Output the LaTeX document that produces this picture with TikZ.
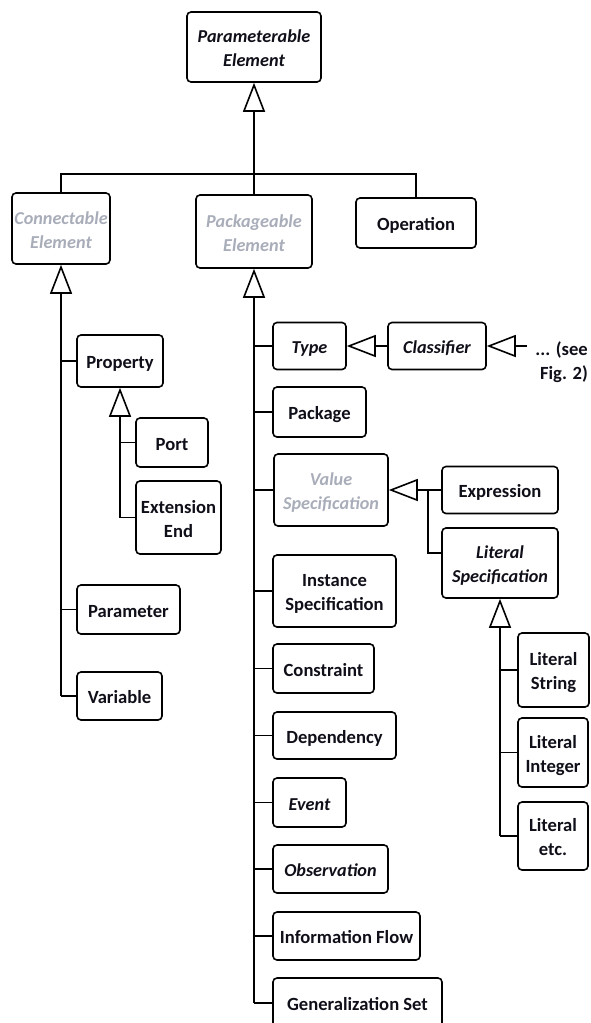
\documentclass[tikz,border=0pt]{standalone}
\usepackage{fontspec}
\setmainfont{Carlito}
\usetikzlibrary{arrows.meta}
\definecolor{abstracttext}{RGB}{168,173,185}
\definecolor{inktext}{RGB}{15,15,25}
% box label: centred lines, drawn a little below the geometric centre
\newcommand{\umltext}[1]{\raisebox{-3pt}[\height][\depth]{\begin{tabular}{@{}c@{}}#1\end{tabular}}}
\begin{document}
\begin{tikzpicture}[x=1pt,y=-1pt,
  umlbox/.style={draw, line width=1.6pt, rounded corners=4pt, inner sep=0pt,
    text=inktext, font=\fontsize{18.6}{24}\selectfont\bfseries},
  italicbox/.style={umlbox, font=\fontsize{18.2}{24}\selectfont\bfseries\itshape},
  greybox/.style={italicbox, text=abstracttext},
  link/.style={line width=1.6pt},
  gen/.style={link, -{Triangle[open, length=29pt, width=22pt]}},
]
\useasboundingbox (0,0) rectangle (590,1023);
\clip (0,0) rectangle (590,1023);

% top level
\node[italicbox, minimum width=134pt, minimum height=70pt] (param) at (254,47) {\umltext{Parameterable\\Element}};
\node[greybox, minimum width=98pt, minimum height=71pt] (conn) at (61,228.5) {\umltext{Connectable\\Element}};
\node[greybox, minimum width=116pt, minimum height=73pt] (pkg) at (254,231.5) {\umltext{Packageable\\Element}};
\node[umlbox, minimum width=120pt, minimum height=50pt] (oper) at (416,223) {\umltext{Operation}};

% connectable elements
\node[umlbox, minimum width=86pt, minimum height=52pt] (prop) at (120,361) {\umltext{Property}};
\node[umlbox, minimum width=72pt, minimum height=49pt] (port) at (172,442.5) {\umltext{Port}};
\node[umlbox, minimum width=85pt, minimum height=73pt] (ext) at (178.5,517.5) {\umltext{Extension\\End}};
\node[umlbox, minimum width=103pt, minimum height=49pt] (parameter) at (128.5,609.5) {\umltext{Parameter}};
\node[umlbox, minimum width=85pt, minimum height=48pt] (var) at (119.5,696) {\umltext{Variable}};

% packageable elements
\node[italicbox, minimum width=73pt, minimum height=47pt] (type) at (309.5,346) {\umltext{Type}};
\node[italicbox, minimum width=98pt, minimum height=47pt] (classifier) at (437,346) {\umltext{Classifier}};
\node[inner sep=0pt, align=right, anchor=east, text=inktext,
  font=\fontsize{18.6}{24}\selectfont\bfseries] (see) at (588,362) {... (see\\Fig. 2)};
\node[umlbox, minimum width=93pt, minimum height=50pt] (package) at (319.5,412) {\umltext{Package}};
\node[greybox, minimum width=114pt, minimum height=72pt] (vs) at (331,490) {\umltext{Value\\Specification}};
\node[umlbox, minimum width=116pt, minimum height=47pt] (expr) at (500,490) {\umltext{Expression}};
\node[italicbox, minimum width=116pt, minimum height=70pt] (lit) at (500,563) {\umltext{Literal\\Specification}};
\node[umlbox, minimum width=123pt, minimum height=72pt] (inst) at (334.5,591) {\umltext{Instance\\Specification}};
\node[umlbox, minimum width=101pt, minimum height=49pt] (constr) at (323.5,668.5) {\umltext{Constraint}};
\node[umlbox, minimum width=123pt, minimum height=47pt] (dep) at (334.5,735.5) {\umltext{Dependency}};
\node[italicbox, minimum width=73pt, minimum height=49pt] (event) at (309.5,802.5) {\umltext{Event}};
\node[italicbox, minimum width=115pt, minimum height=48pt] (obs) at (330.5,869) {\umltext{Observation}};
\node[umlbox, minimum width=147pt, minimum height=48pt] (info) at (346.5,936) {\umltext{Information Flow}};
\node[umlbox, minimum width=169pt, minimum height=50pt] (gen) at (357.5,1003) {\umltext{Generalization Set}};

% literals
\node[umlbox, minimum width=71pt, minimum height=74pt] (lstr) at (553.5,670) {\umltext{Literal\\String}};
\node[umlbox, minimum width=70pt, minimum height=69pt] (lint) at (553,752.5) {\umltext{Literal\\Integer}};
\node[umlbox, minimum width=70pt, minimum height=68pt] (letc) at (553,836) {\umltext{Literal\\etc.}};

% generalization from the top
\coordinate (bar) at (254,174);
\draw[gen] (bar) -- (param.south);
\draw[link] (conn.north) |- (bar) -| (oper.north);
\draw[link] (pkg.north) -- (bar);

% connectable element tree
\coordinate (ctrunk) at (var.west -| conn.south);
\draw[gen] (ctrunk) -- (conn.south);
\draw[link] (prop.west) -| (ctrunk);
\draw[link] (parameter.west) -| (ctrunk);
\draw[link] (var.west) -- (ctrunk);

% property tree
\coordinate (ptrunk) at (ext.west -| prop.south);
\draw[gen] (ptrunk) -- (prop.south);
\draw[link] (port.west) -| (ptrunk);
\draw[link] (ext.west) -- (ptrunk);

% packageable element tree
\coordinate (ktrunk) at (gen.west -| pkg.south);
\draw[gen] (ktrunk) -- (pkg.south);
\foreach \n in {type,package,vs,inst,constr,dep,event,obs,info}
  \draw[link] (\n.west) -| (ktrunk);
\draw[link] (gen.west) -- (ktrunk);

% type / classifier chain
\draw[gen] (classifier.west) -- (type.east);
\coordinate (seeend) at (527,346);
\draw[gen] (seeend) -- (classifier.east);

% value specification tree
\coordinate (vsj) at (428,490);
\draw[gen] (expr.west) -- (vs.east);
\draw[link] ([yshift=10pt]lit.west) -| (vsj);

% literal specification tree
\coordinate (ltrunk) at (letc.west -| lit.south);
\draw[gen] (ltrunk) -- (lit.south);
\draw[link] (lstr.west) -| (ltrunk);
\draw[link] (lint.west) -| (ltrunk);
\draw[link] (letc.west) -- (ltrunk);
\end{tikzpicture}
\end{document}
